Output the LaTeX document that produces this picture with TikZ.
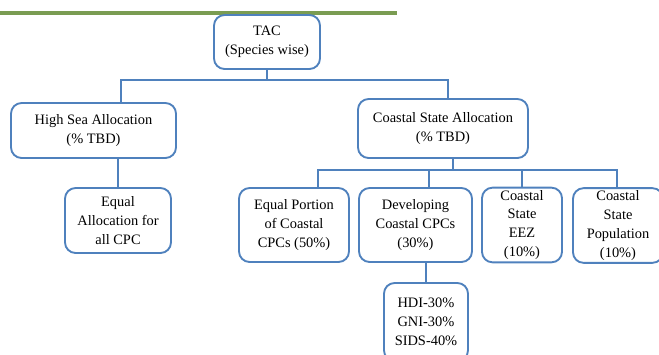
\documentclass[tikz,border=0pt]{standalone}
\usepackage{fontspec}
\setmainfont{Liberation Serif}
\definecolor{boxblue}{RGB}{79,129,189}
\definecolor{rulegreen}{RGB}{122,156,82}
\tikzset{
    box/.style={draw=boxblue, line width=1.6pt, rounded corners=9pt, fill=white,
        align=center, font=\fontsize{12.3}{16.2}\selectfont, inner sep=2pt},
    link/.style={draw=boxblue, line width=2pt},
}
\begin{document}
\begin{tikzpicture}[x=0.03cm, y=-0.03cm]
    \useasboundingbox (0,0) rectangle (659,354);
    \draw[rulegreen, line width=2.6pt] (0,13) -- (397,13);
    % boxes
    \node[box, minimum width=106*0.03cm, minimum height=54*0.03cm] (tac) at (267,42) {TAC\\(Species wise)};
    \node[box, minimum width=165*0.03cm, minimum height=55*0.03cm] (hsa) at (93.5,130.5) {High Sea Allocation\\(\% TBD)};
    \node[box, minimum width=106*0.03cm, minimum height=65*0.03cm] (eqa) at (118,220.5) {Equal\\Allocation for\\all CPC};
    \node[box, minimum width=170*0.03cm, minimum height=59*0.03cm] (csa) at (443,128.5) {Coastal State Allocation\\(\% TBD)};
    \node[box, minimum width=110*0.03cm, minimum height=74*0.03cm] (eqp) at (294,225) {Equal Portion\\of Coastal\\CPCs (50\%)};
    \node[box, minimum width=113*0.03cm, minimum height=74*0.03cm] (dev) at (415.5,225) {Developing\\Coastal CPCs\\(30\%)};
    \node[box, minimum width=80*0.03cm, minimum height=74*0.03cm] (eez) at (522,225) {Coastal\\State\\EEZ\\(10\%)};
    \node[box, minimum width=90*0.03cm, minimum height=74*0.03cm] (pop) at (618,225.5) {Coastal\\State\\Population\\(10\%)};
    \node[box, minimum width=84*0.03cm, minimum height=78*0.03cm] (hdi) at (426,322) {HDI-30\%\\GNI-30\%\\SIDS-40\%};
    % connectors
    \draw[link] (tac.south) -- ++(0,10) -| ([shift={(27.5,0)}]hsa.north);
    \draw[link] (tac.south) -- ++(0,10) -| ([shift={(5,0)}]csa.north);
    \draw[link] (eqa.north |- hsa.south) -- (eqa.north);
    \draw[link] ([shift={(10,0)}]csa.south) -- ++(0,11) -| ([shift={(24,0)}]eqp.north);
    \draw[link] ([shift={(10,0)}]csa.south) -- ++(0,11) -| ([shift={(13.5,0)}]dev.north);
    \draw[link] ([shift={(10,0)}]csa.south) -- ++(0,11) -| (eez.north);
    \draw[link] ([shift={(10,0)}]csa.south) -- ++(0,11) -| ([shift={(-1,0)}]pop.north);
    \draw[link] (hdi.north |- dev.south) -- (hdi.north);
\end{tikzpicture}
\end{document}
